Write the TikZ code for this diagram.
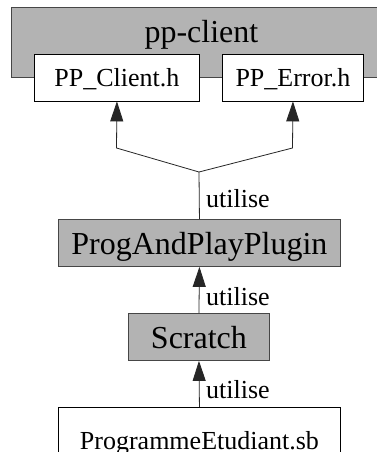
\documentclass[tikz,border=0pt]{standalone}
\usepackage{fontspec}
\setmainfont{Liberation Serif}
\usetikzlibrary{arrows.meta}
\definecolor{boxgray}{RGB}{179,179,179}
\definecolor{edgegray}{RGB}{70,70,70}
\begin{document}
\begin{tikzpicture}[x=1pt,y=-1pt,
  box/.style={draw=edgegray, line width=0.9pt, inner sep=0pt, anchor=north west, text depth=0pt},
  graybox/.style={box, fill=boxgray, font=\rmfamily\fontsize{32}{36}\selectfont},
  whitebox/.style={box, draw=black, fill=white, font=\rmfamily\fontsize{26}{30}\selectfont},
  lbl/.style={inner sep=0pt, anchor=base west, font=\rmfamily\fontsize{26}{30}\selectfont},
  conn/.style={draw=black!85, line width=0.8pt},
  tip/.style={-{Triangle[length=20pt,width=13pt]}}]
\useasboundingbox (0,0) rectangle (377,452);
\fill[white] (0,0) rectangle (377,452);
\node[graybox, minimum width=380pt, minimum height=70pt, text height=0pt] (ppc) at (11,7) {pp-client};
\node[whitebox, minimum width=165pt, minimum height=46pt, text height=17pt] (pc) at (34,54.5) {PP\_Client.h};
\node[whitebox, minimum width=141pt, minimum height=46pt, text height=17pt] (pe) at (222,54.5) {PP\_Error.h};
\node[graybox, minimum width=282pt, minimum height=47pt, text height=23pt] (papp) at (58,219) {ProgAndPlayPlugin};
\node[graybox, minimum width=141pt, minimum height=47pt, text height=23pt] (scr) at (128,313) {Scratch};
\node[whitebox, minimum width=282pt, minimum height=63pt, text height=21pt] (prog) at (58,407) {ProgrammeEtudiant.sb};
\coordinate (split) at (199,172);
\coordinate (bl) at (116.5,148);
\coordinate (br) at (292.5,148);
\draw[conn, tip] (papp.north) -- (split) -- (bl) -- (pc.south);
\draw[conn, tip] (split) -- (br) -- (pe.south);
\draw[conn, tip] (scr.north) -- (papp.south);
\draw[conn, tip] (prog.north) -- (scr.south);
\node[lbl] (u1) at (206,207) {utilise};
\node[lbl] (u2) at (206,305) {utilise};
\node[lbl] (u3) at (206,398) {utilise};
\end{tikzpicture}
\end{document}
